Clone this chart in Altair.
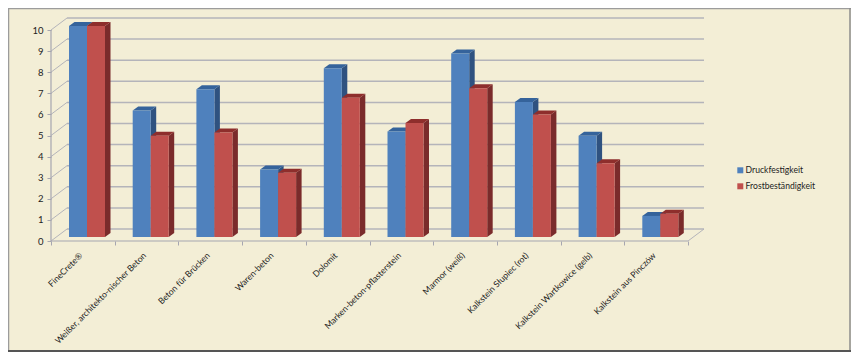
import altair as alt
import pandas as pd

categories = ["FineCrete®", "Weißer, architekto-nischer Beton", "Beton für Brücken", "Waren-beton",
              "Dolomit", "Marken-beton-pflasterstein", "Marmor (weiß)", "Kalkstein Słupiec (rot)",
              "Kalkstein Wartkowice (gelb)", "Kalkstein aus Pinczów"]
druck = [10, 6.0, 7.0, 3.2, 8.0, 5.0, 8.7, 6.4, 4.8, 1.0]
frost = [10, 4.8, 4.95, 3.05, 6.6, 5.4, 7.05, 5.8, 3.5, 1.1]
series_names = ["Druckfestigkeit", "Frostbeständigkeit"]
front_colors = ["#4F81BD", "#C0504D"]
top_colors = ["#35639B", "#8E2E2C"]
side_colors = ["#2F5280", "#7A2B2B"]

W, H = 843, 344
PX_X, PX_Y = 63.7, 21.1            # pixels per category / per value unit
x_scale = alt.Scale(domain=[(8 - 51) / PX_X, (8 + W - 51) / PX_X], range=[0, W], nice=False, zero=False)
y_scale = alt.Scale(domain=[(241 - 8 - H) / PX_Y, (241 - 8) / PX_Y], range=[H, 0], nice=False, zero=False)
BACK_X, BACK_Y = 16 / PX_X, 12 / PX_Y
BAR_W = 18 / PX_X
BAR_IN = 18 / PX_X
BAR_DX, BAR_DY = 5.5 / PX_X, 4 / PX_Y
LIFT = 4 / PX_Y                    # bars stand a little behind the front edge of the floor
GRID = "#B4B4BA"
AXIS = "#A6A6B0"
FONT = "Lato"
TXT = "#222222"
FS = 8.6

front, side, top = [], [], []
for s, vals in enumerate([druck, frost]):
    for i, v in enumerate(vals):
        l = i + BAR_IN + s * BAR_W
        r = l + BAR_W
        key = f"{s}-{i}"
        front.append(dict(series=series_names[s], l=l, r=r, v=v + LIFT, base=LIFT))
        side.append(dict(k=key, s=s, x=r, y=v + LIFT, y2=LIFT))
        side.append(dict(k=key, s=s, x=r + BAR_DX, y=v + LIFT + BAR_DY, y2=LIFT + BAR_DY))
        top.append(dict(k=key, s=s, y=v + LIFT, x=l, x2=r))
        top.append(dict(k=key, s=s, y=v + LIFT + BAR_DY, x=l + BAR_DX, x2=r + BAR_DX))
front, side, top = pd.DataFrame(front), pd.DataFrame(side), pd.DataFrame(top)

X = lambda f: alt.X(f, type="quantitative", scale=x_scale, title=None)
Y = lambda f: alt.Y(f, type="quantitative", scale=y_scale, title=None)

ticks = list(range(11))
grid_back = pd.DataFrame({"y": [t + BACK_Y for t in ticks], "x": BACK_X, "x2": 10 + BACK_X})
slants = pd.DataFrame(
    [dict(k=f"{t}", x=0, y=t) for t in ticks] + [dict(k=f"{t}", x=BACK_X, y=t + BACK_Y) for t in ticks]
    + [dict(k="r", x=10, y=0), dict(k="r", x=10 + BACK_X, y=BACK_Y)]
)

base_axes = alt.Chart(pd.DataFrame({"x": [0], "x2": [10], "y": [0]})).mark_rule(color=AXIS, strokeWidth=1.2).encode(
    x=alt.X("x", type="quantitative", scale=x_scale, title=None,
            axis=alt.Axis(values=ticks, tickCount=40, offset=-111, domain=False, grid=False, labels=False, title=None,
                          tickColor=AXIS, tickSize=4)),
    x2="x2",
    y=alt.Y("y", type="quantitative", scale=y_scale, title=None,
            axis=alt.Axis(values=ticks, tickCount=40, format="d", offset=-43, domain=False, grid=False, title=None,
                          tickColor=AXIS, tickSize=4, labelFont=FONT, labelFontSize=9.5,
                          labelColor=TXT, labelPadding=4, labelOverlap=False, labelFlush=False)),
)

layers = [
    base_axes,
    alt.Chart(grid_back).mark_rule(color=GRID, strokeWidth=1.5).encode(x=X("x"), x2="x2", y=Y("y")),
    alt.Chart(slants).mark_line(color=GRID, strokeWidth=1).encode(x=X("x"), y=Y("y"), detail="k:N"),
    alt.Chart(pd.DataFrame({"y": [0], "y2": [10], "x": [0]})).mark_rule(color=AXIS, strokeWidth=1.2)
    .encode(x=X("x"), y=Y("y"), y2="y2"),
]
for s, name in enumerate(series_names):
    layers += [
        alt.Chart(side[side.s == s]).mark_area(color=side_colors[s], orient="vertical")
        .encode(x=X("x"), y=Y("y"), y2="y2", detail="k:N"),
        alt.Chart(top[top.s == s]).mark_area(color=top_colors[s], orient="horizontal")
        .encode(y=Y("y"), x=X("x"), x2="x2", detail="k:N"),
        alt.Chart(front[front.series == name]).mark_rect()
        .encode(x=X("l"), x2="r", y=Y("v"), y2="base",
                color=alt.Color("series:N", scale=alt.Scale(domain=series_names, range=front_colors),
                                legend=alt.Legend(title=None, orient="none", legendX=728, legendY=158,
                                                  symbolType="square", symbolSize=36, symbolStrokeWidth=0,
                                                  labelFont=FONT, labelFontSize=FS, labelColor=TXT,
                                                  rowPadding=7, labelOffset=1))),
    ]
labels = pd.DataFrame({"name": categories, "x": [i + 0.47 for i in range(10)], "y": -0.62})
layers.append(
    alt.Chart(labels).mark_text(angle=315, align="right", baseline="middle", font=FONT, fontSize=FS, color=TXT)
    .encode(x=X("x"), y=Y("y"), text="name:N")
)
# frame
layers += [
    alt.Chart(pd.DataFrame({"a": [0]})).mark_rule(color="#9C9C9C", strokeWidth=1.5)
    .encode(x=alt.value(0.5), y=alt.value(0), y2=alt.value(H)),
    alt.Chart(pd.DataFrame({"a": [0]})).mark_rule(color="#9C9C9C", strokeWidth=1.5)
    .encode(x=alt.value(0), x2=alt.value(W), y=alt.value(0.5)),
    alt.Chart(pd.DataFrame({"a": [0]})).mark_rule(color="#8C8C8C", strokeWidth=1.5)
    .encode(x=alt.value(W - 1), y=alt.value(0), y2=alt.value(H)),
    alt.Chart(pd.DataFrame({"a": [0]})).mark_rule(color="#555555", strokeWidth=2)
    .encode(x=alt.value(0), x2=alt.value(W), y=alt.value(H - 1)),
]

chart = alt.layer(*layers).properties(
    width=W, height=H, padding=0, autosize=alt.AutoSizeParams(type="none"), background="#F3EED6"
).configure_view(stroke=None).configure_axis(labelFontWeight="normal")

chart.save("out.html", embed_options={"renderer": "svg", "actions": False})
